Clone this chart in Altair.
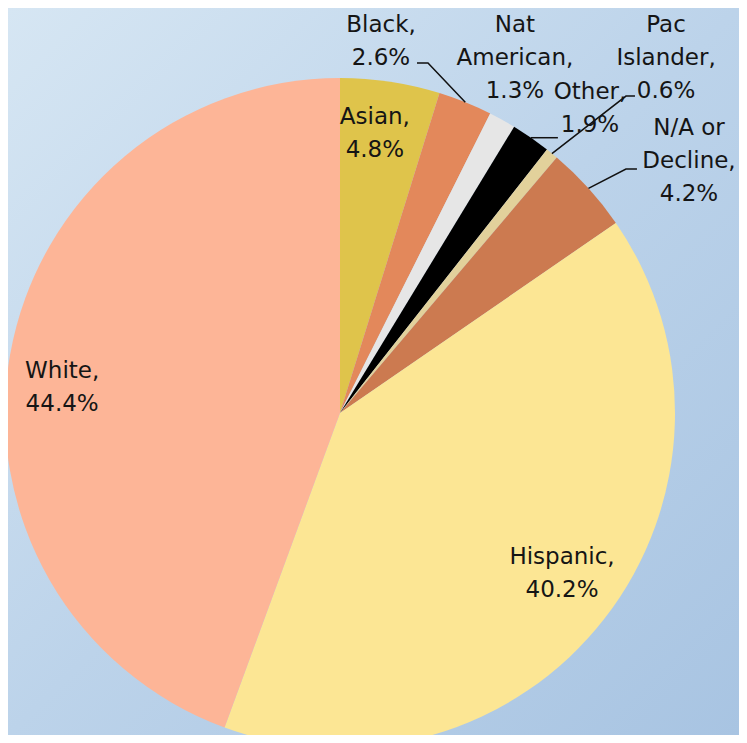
import math
import altair as alt
import pandas as pd

# ---------------- data ----------------
categories = ["Asian", "Black", "Nat American", "Other", "Pac Islander",
              "N/A or Decline", "Hispanic", "White"]
label_names = ["Asian,", "Black,", "Nat\nAmerican,", "Other,", "Pac\nIslander,",
               "N/A or\nDecline,", "Hispanic,", "White,"]
shares = [4.8, 2.6, 1.3, 1.9, 0.6, 4.2, 40.2, 44.4]
colors = ["#DFC44B", "#E3885B", "#E6E6E6", "#000000", "#E2D19B",
          "#CC7A50", "#FCE694", "#FDB597"]

# ---------------- layout ----------------
W, H = 731, 727
CX, CY, R = 332, 405, 335
LH = 33

# label block centres: polar (degrees clockwise from 12 o'clock, radius as fraction of R)
label_angle = [7.1, 6.29, 26.24, 39.43, 42.56, 54.17, 125.78, 275.34]
label_rfrac = [0.842, 1.117, 1.181, 1.175, 1.439, 1.285, 0.817, 0.833]

# leader lines: category, elbow polar (deg, px radius) or None (= start on rim), horizontal tail
leader_cats = ["Black", "Other", "Pac Islander", "N/A or Decline"]
leader_elbow = [(14.11, 360.9), None, (42.06, 426.9), (49.53, 375.9)]
leader_tail = [-11, 27, 9, 11]


def polar(a_deg, r):
    a = math.radians(a_deg)
    return CX + r * math.sin(a), CY - r * math.cos(a)


total = sum(shares)
cum = 0.0
mid = {}
for c, s in zip(categories, shares):
    mid[c] = (cum + s / 2) / total * 360
    cum += s

pie_df = pd.DataFrame({"category": categories, "share": shares,
                       "order": list(range(len(categories)))})

txt_rows = []
for c, n, s, a, f in zip(categories, label_names, shares, label_angle, label_rfrac):
    px, py = polar(a, f * R)
    text = f"{n}\n{s:.1f}%"
    nlines = text.count("\n") + 1
    py -= (nlines - 1) * LH / 2  # Vega anchors the first line; centre the block
    txt_rows.append({"category": c, "text": text, "px": px, "py": py})
txt_df = pd.DataFrame(txt_rows)

ld_rows = []
for c, e, t in zip(leader_cats, leader_elbow, leader_tail):
    sx, sy = polar(mid[c], R)
    pts = [(sx, sy)]
    if e is None:
        ex, ey = sx, sy
    else:
        ex, ey = polar(*e)
        pts.append((ex, ey))
    pts.append((ex + t, ey))
    for i, (x, y) in enumerate(pts):
        ld_rows.append({"category": c, "i": i, "px": x, "py": y})
ld_df = pd.DataFrame(ld_rows)

# ---------------- chart ----------------
grad = alt.Gradient(
    gradient="linear",
    stops=[alt.GradientStop(color="#D6E6F3", offset=0),
           alt.GradientStop(color="#BCD3EA", offset=0.5),
           alt.GradientStop(color="#A8C4E2", offset=1)],
    x1=0, y1=0, x2=1, y2=1,
)

bg = alt.Chart(pd.DataFrame({"k": [0]})).mark_rect(fill=grad).encode(
    x=alt.value(0), x2=alt.value(W), y=alt.value(0), y2=alt.value(H)
)

pie = alt.Chart(pie_df).mark_arc(outerRadius=R).encode(
    theta=alt.Theta("share:Q", stack=True),
    order=alt.Order("order:Q"),
    color=alt.Color("category:N", scale=alt.Scale(domain=categories, range=colors),
                    legend=None),
    x=alt.value(CX),
    y=alt.value(CY),
)

leaders = alt.Chart(ld_df).mark_line(color="#111111", strokeWidth=1.5).encode(
    x=alt.X("px:Q", scale=None),
    y=alt.Y("py:Q", scale=None),
    detail="category:N",
    order="i:Q",
)

labels = alt.Chart(txt_df).mark_text(
    align="center", baseline="middle", lineBreak="\n", lineHeight=LH,
    fontSize=23, font="DejaVu Sans", color="#151515",
).encode(
    x=alt.X("px:Q", scale=None),
    y=alt.Y("py:Q", scale=None),
    text="text:N",
)

chart = alt.layer(bg, pie, leaders, labels).properties(
    width=W, height=H, padding=0,
    autosize=alt.AutoSizeParams(type="none"),
    background="#BCD3EA",
).configure_view(stroke=None)

chart.save("out.html", embed_options={"renderer": "svg", "actions": False})
